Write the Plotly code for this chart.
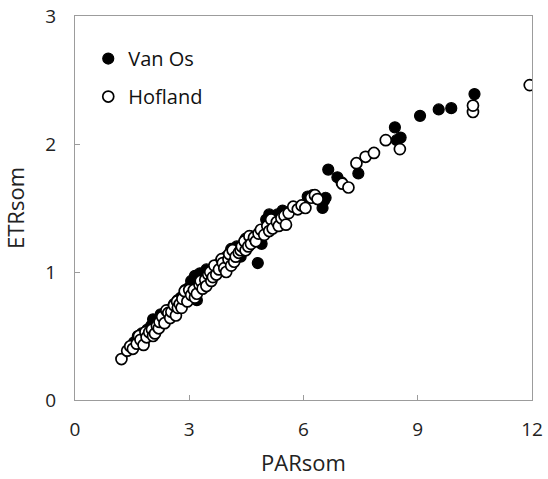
import plotly.graph_objects as go

vanos_x = [1.55, 1.65, 1.70, 1.75, 1.82, 1.90, 1.95, 2.00, 2.05, 2.08, 2.15, 2.22, 2.25, 2.30,
           2.38, 2.45, 2.48, 2.55, 2.60, 2.62, 2.70, 2.75, 2.78, 2.85, 2.90, 2.93, 3.00, 3.00,
           3.05, 3.10, 3.12, 3.15, 3.20, 3.22, 3.28, 3.30, 3.35, 3.42, 3.45, 3.50, 3.55, 3.58,
           3.65, 3.70, 3.75, 3.82, 3.85, 3.90, 3.98, 4.00, 4.05, 4.10, 4.12, 4.20, 4.25, 4.30,
           4.35, 4.40, 4.48, 4.50, 4.55, 4.60, 4.80, 4.90, 5.00, 5.02, 5.10, 5.15, 5.20, 5.32,
           5.45, 6.11, 6.24, 6.50, 6.54, 6.58, 6.65, 6.89, 7.00, 7.44, 8.40, 8.45, 8.55, 9.06,
           9.55, 9.88, 10.49]
vanos_y = [0.45, 0.50, 0.47, 0.52, 0.48, 0.55, 0.52, 0.58, 0.63, 0.56, 0.62, 0.60, 0.67, 0.66,
           0.63, 0.66, 0.70, 0.72, 0.75, 0.69, 0.78, 0.73, 0.80, 0.77, 0.86, 0.83, 0.88, 0.82,
           0.93, 0.92, 0.88, 0.97, 0.78, 0.85, 0.99, 0.90, 0.95, 0.98, 1.02, 0.92, 0.94, 0.97,
           1.02, 1.05, 1.00, 1.08, 1.02, 1.05, 1.12, 1.06, 1.09, 1.18, 1.15, 1.13, 1.20, 1.18,
           1.12, 1.21, 1.26, 1.20, 1.24, 1.28, 1.07, 1.22, 1.34, 1.41, 1.45, 1.38, 1.43, 1.45,
           1.48, 1.59, 1.60, 1.50, 1.56, 1.58, 1.80, 1.74, 1.70, 1.77, 2.13, 2.03, 2.05, 2.22,
           2.27, 2.28, 2.39]

hofland_x = [1.22, 1.37, 1.45, 1.52, 1.62, 1.68, 1.72, 1.80, 1.85, 1.88, 1.95, 2.02, 2.05, 2.10,
             2.15, 2.20, 2.22, 2.29, 2.35, 2.40, 2.45, 2.50, 2.53, 2.60, 2.65, 2.68, 2.70, 2.75,
             2.80, 2.82, 2.88, 2.95, 3.00, 3.05, 3.12, 3.15, 3.20, 3.27, 3.30, 3.35, 3.42, 3.45,
             3.50, 3.55, 3.58, 3.62, 3.66, 3.71, 3.78, 3.85, 3.88, 3.92, 3.97, 4.03, 4.05, 4.10,
             4.14, 4.18, 4.22, 4.30, 4.35, 4.38, 4.45, 4.48, 4.55, 4.58, 4.62, 4.70, 4.75, 4.82,
             4.88, 4.97, 5.05, 5.10, 5.15, 5.19, 5.30, 5.35, 5.42, 5.50, 5.54, 5.61, 5.73, 5.85,
             5.95, 6.05, 6.20, 6.30, 6.37, 7.02, 7.18, 7.39, 7.63, 7.85, 8.16, 8.53, 10.45, 10.45,
             11.94]
hofland_y = [0.32, 0.385, 0.42, 0.40, 0.44, 0.50, 0.47, 0.43, 0.53, 0.49, 0.53, 0.55, 0.50, 0.52,
             0.58, 0.56, 0.61, 0.65, 0.60, 0.70, 0.68, 0.64, 0.69, 0.74, 0.66, 0.77, 0.72, 0.75,
             0.72, 0.79, 0.85, 0.77, 0.86, 0.82, 0.86, 0.80, 0.83, 0.90, 0.93, 0.87, 0.94, 0.89,
             0.98, 1.00, 0.93, 0.96, 1.05, 0.98, 1.02, 1.10, 1.07, 1.03, 1.00, 1.10, 1.14, 1.05,
             1.17, 1.08, 1.12, 1.15, 1.17, 1.20, 1.24, 1.17, 1.20, 1.28, 1.22, 1.27, 1.24, 1.30,
             1.33, 1.29, 1.36, 1.32, 1.41, 1.34, 1.39, 1.36, 1.42, 1.44, 1.37, 1.46, 1.51, 1.49,
             1.52, 1.50, 1.58, 1.60, 1.57, 1.69, 1.66, 1.85, 1.90, 1.93, 2.03, 1.96, 2.25, 2.30,
             2.46]

x_ticks = [0, 3, 6, 9, 12]
y_ticks = [0, 1, 2, 3]

FONT = "Open Sans"
AXIS_COLOR = "#9c9c9c"

fig = go.Figure()
fig.add_trace(go.Scatter(
    x=vanos_x, y=vanos_y, mode="markers", name="Van Os", legendgroup="a",
    marker=dict(symbol="circle", size=11, color="black", line=dict(color="black", width=1.2)),
))
fig.add_trace(go.Scatter(
    x=hofland_x, y=hofland_y, mode="markers", name="Hofland", legendgroup="b",
    marker=dict(symbol="circle", size=11, color="white", line=dict(color="black", width=1.7)),
))

axis_common = dict(
    showline=True, mirror=True, linecolor=AXIS_COLOR, linewidth=1.3,
    ticks="inside", ticklen=5, tickcolor=AXIS_COLOR, tickwidth=1.2,
    showgrid=False, zeroline=False,
    tickfont=dict(family=FONT, size=19, color="#222222"),
)

fig.update_xaxes(range=[0, 12], tickvals=x_ticks, ticklabelstandoff=12,
                 title=dict(text="PARsom", font=dict(family=FONT, size=22, color="#222222"), standoff=14),
                 **axis_common)
fig.update_yaxes(range=[0, 3], tickvals=y_ticks, ticklabelstandoff=14,
                 title=dict(text="ETRsom", font=dict(family=FONT, size=22, color="#222222"), standoff=14),
                 **axis_common)

fig.update_layout(
    width=548, height=479,
    margin=dict(l=75, r=16, t=16, b=79, autoexpand=False),
    paper_bgcolor="white", plot_bgcolor="white",
    showlegend=True,
    legend=dict(x=0.029, y=0.94, xanchor="left", yanchor="top",
                font=dict(family=FONT, size=20, color="#111111"),
                bgcolor="rgba(0,0,0,0)", tracegroupgap=9),
)

fig.write_html("out.html")
